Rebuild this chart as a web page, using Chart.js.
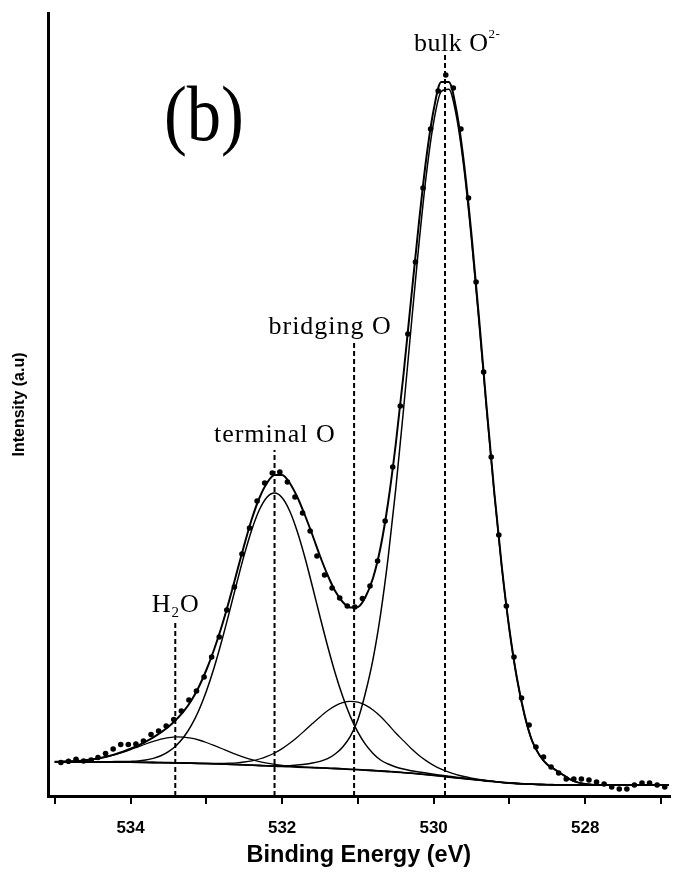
<!DOCTYPE html>
<html>
<head>
<meta charset="utf-8">
<script src="https://cdn.jsdelivr.net/npm/chart.js@4.4.1/dist/chart.umd.min.js"></script>
<style>
  html, body { margin: 0; padding: 0; background: #fff; }
  #wrap { width: 675px; height: 874px; }
</style>
</head>
<body>
<div id="wrap"><canvas id="xpsChart" width="675" height="874"></canvas></div>
<script>
// O 1s region, binding energy in eV, intensity in arbitrary units
const energy = [535.0, 534.9, 534.8, 534.7, 534.6, 534.5, 534.4, 534.3, 534.2, 534.1,
  534.0, 533.9, 533.8, 533.7, 533.6, 533.5, 533.4, 533.3, 533.2, 533.1,
  533.0, 532.9, 532.8, 532.7, 532.6, 532.5, 532.4, 532.3, 532.2, 532.1,
  532.0, 531.9, 531.8, 531.7, 531.6, 531.5, 531.4, 531.3, 531.2, 531.1,
  531.0, 530.9, 530.8, 530.7, 530.6, 530.5, 530.4, 530.3, 530.2, 530.1,
  530.0, 529.9, 529.8, 529.7, 529.6, 529.5, 529.4, 529.3, 529.2, 529.1,
  529.0, 528.9, 528.8, 528.7, 528.6, 528.5, 528.4, 528.3, 528.2, 528.1,
  528.0, 527.9, 527.8, 527.7, 527.6, 527.5, 527.4, 527.3, 527.2, 527.1,
  527.0, 526.9];

const background = [34, 34, 34, 34, 34, 34, 34, 34, 34, 33.9,
  33.8, 33.7, 33.6, 33.5, 33.4, 33.3, 33.2, 33.0, 32.8, 32.6,
  32.4, 32.2, 32.0, 31.7, 31.4, 31.1, 30.8, 30.5, 30.2, 29.9,
  29.6, 29.3, 29.0, 28.7, 28.4, 28.1, 27.8, 27.5, 27.1, 26.7,
  26.3, 25.9, 25.5, 25.0, 24.5, 24.0, 23.4, 22.8, 22.1, 21.4,
  20.6, 19.8, 19.0, 18.2, 17.4, 16.6, 15.8, 15.0, 14.3, 13.6,
  13.0, 12.5, 12.1, 11.8, 11.5, 11.3, 11.2, 11.1, 11.0, 11.0,
  11, 11, 11, 11, 11, 11, 11, 11, 11, 11, 11, 11];

const h2oFit = [34.2, 34.4, 34.7, 35.1, 35.8, 36.7, 37.9, 39.5, 41.5, 43.8,
  46.4, 49.2, 52.0, 54.6, 56.8, 58.3, 59.1, 58.9, 57.8, 56.0,
  53.5, 50.6, 47.5, 44.3, 41.3, 38.6, 36.3, 34.4, 32.9, 31.7,
  30.7, 30.0, 29.4, 28.9, 28.5, 28.1, 27.8, 27.5, 27.1, 26.7,
  26.3, 25.9, 25.5, 25.0, 24.5, 24.0, 23.4, 22.8, 22.1, 21.4,
  20.6, 19.8, 19.0, 18.2, 17.4, 16.6, 15.8, 15.0, 14.3, 13.6,
  13.0, 12.5, 12.1, 11.8, 11.5, 11.3, 11.2, 11.1, 11.0, 11.0,
  11, 11, 11, 11, 11, 11, 11, 11, 11, 11, 11, 11];

const terminalFit = [34.0, 34.0, 34.0, 34.0, 34.0, 34.1, 34.2, 34.3, 34.4, 34.4,
  34.6, 35.0, 36.0, 37.6, 40.2, 44.3, 50.3, 58.7, 70.3, 85.5,
  104.7, 127.7, 154.2, 182.9, 212.5, 241.1, 266.3, 286.2, 298.8, 302.9,
  298.2, 285.0, 264.5, 238.7, 209.5, 179.3, 150.0, 123.0, 99.4, 79.6,
  63.8, 51.6, 42.6, 36.0, 32.0, 29.0, 26.9, 25.3, 24.1, 22.9,
  21.8, 20.8, 19.8, 18.8, 17.9, 17.0, 16.1, 15.2, 14.4, 13.6,
  13.0, 12.5, 12.1, 11.8, 11.5, 11.3, 11.2, 11.1, 11.0, 11.0,
  11, 11, 11, 11, 11, 11, 11, 11, 11, 11, 11, 11];

const bridgingFit = [34, 34, 34, 34, 34, 34, 34, 34, 34, 33.9,
  33.8, 33.7, 33.6, 33.5, 33.4, 33.3, 33.2, 33.0, 32.8, 32.7,
  32.6, 32.6, 32.7, 32.8, 33.2, 34.0, 35.2, 37.0, 39.6, 43.0,
  47.4, 52.7, 58.8, 65.5, 72.4, 79.1, 85.2, 90.1, 93.3, 94.6,
  93.8, 90.9, 86.0, 79.5, 71.5, 63.0, 55.4, 47.8, 41.1, 35.4,
  30.6, 26.8, 23.8, 21.4, 19.5, 17.9, 16.6, 15.5, 14.6, 13.7,
  13.0, 12.5, 12.1, 11.8, 11.5, 11.3, 11.2, 11.1, 11.0, 11.0,
  11, 11, 11, 11, 11, 11, 11, 11, 11, 11, 11, 11];

const bulkFit = [34, 34, 34, 34, 34, 34, 34, 34, 34, 33.9,
  33.8, 33.7, 33.6, 33.5, 33.4, 33.3, 33.2, 33.0, 32.8, 32.6,
  32.4, 32.2, 32.0, 31.7, 31.4, 31.1, 30.8, 30.5, 30.2, 29.9,
  30.1, 30.3, 31.0, 31.7, 32.9, 34.6, 37.3, 42.0, 49.1, 59.7,
  76.3, 103.2, 136.9, 181.9, 238.8, 307.2, 384.5, 466.7, 547.4, 619.1,
  673.8, 704.5, 706.7, 679.9, 627.6, 555.8, 472.4, 385.4, 302.3, 228.1,
  166.2, 117.2, 80.8, 54.9, 40.4, 31.3, 26.5, 21.5, 16.7, 13.6,
  12.0, 11.3, 11, 11, 11, 11, 11, 11, 11, 11, 11, 11];

const envelope = [34.2, 34.4, 34.7, 35.1, 35.8, 36.8, 38.1, 39.8, 41.9, 44.3,
  47.2, 50.5, 54.4, 58.7, 63.6, 69.3, 76.3, 84.6, 95.3, 109.0,
  126.0, 146.0, 169.0, 195.0, 223.0, 251.0, 277.0, 298.0, 313.0, 321.0,
  321.0, 313.0, 299.0, 281.0, 261.0, 240.0, 221.0, 205.0, 194.0, 188.5,
  189.0, 199.0, 218.0, 249.0, 294.0, 352.0, 420.0, 495.0, 569.0, 636.0,
  686.0, 714.0, 714.0, 686.0, 633.0, 561.0, 477.0, 388.0, 304.0, 229.0,
  166.5, 117.5, 81.0, 55.0, 40.5, 31.5, 26.5, 21.5, 16.7, 13.6,
  12.0, 11.3, 11, 11, 11, 11, 11, 11, 11, 11, 11, 11];

// measured points
const dotEnergy = [534.92, 534.82, 534.72, 534.62, 534.52, 534.43, 534.33, 534.23, 534.13, 534.03,
  533.93, 533.83, 533.73, 533.63, 533.53, 533.43, 533.33, 533.23, 533.13, 533.03,
  532.93, 532.83, 532.73, 532.63, 532.53, 532.43, 532.33, 532.23, 532.13, 532.03,
  531.93, 531.83, 531.73, 531.63, 531.54, 531.44, 531.34, 531.24, 531.14, 531.04,
  530.94, 530.84, 530.74, 530.64, 530.54, 530.44, 530.34, 530.24, 530.14, 530.04,
  529.94, 529.84, 529.74, 529.64, 529.54, 529.44, 529.34, 529.24, 529.14, 529.04,
  528.94, 528.84, 528.74, 528.65, 528.55, 528.45, 528.35, 528.25, 528.15, 528.05,
  527.95, 527.85, 527.75, 527.65, 527.55, 527.45, 527.35, 527.25, 527.15, 527.05,
  526.95];
const dotIntensity = [33.5, 34.7, 36.7, 35.0, 36.0, 38.5, 42.5, 47.0, 51.5, 51.5,
  52.0, 55.0, 61.5, 65.0, 70.0, 76.5, 85.0, 96.0, 105.0, 119.0,
  139.0, 159.0, 186.0, 209.0, 242.0, 268.0, 295.0, 313.0, 323.0, 324.0,
  314.0, 299.0, 283.0, 265.0, 240.0, 221.0, 208.0, 198.0, 190.0, 189.0,
  197.5, 210.0, 235.0, 275.0, 329.0, 390.0, 462.0, 534.0, 608.0, 667.0,
  705.0, 721.0, 708.0, 667.0, 598.0, 514.0, 424.0, 339.0, 261.0, 190.0,
  139.0, 98.0, 71.0, 49.0, 39.0, 29.0, 23.0, 17.0, 17.0, 17.0,
  16.0, 14.0, 12.0, 9.0, 7.0, 7.0, 11.0, 13.0, 13.0, 11.0,
  9.0];

const tickLabels = [534, 532, 530, 528];

// peak positions and the height where each dashed marker stops
const peakEnergy = [533.41, 532.10, 531.05, 529.85];
const peakMarkTop = [176, 346, 453, 741];

const serif = '"Liberation Serif", "Times New Roman", serif';
const sans = '"Liberation Sans", Arial, sans-serif';

let pts = (xs, ys) => xs.map((e, i) => ({ x: e, y: ys[i] }));

let fitLine = (arr, w) => ({
  type: 'line',
  data: pts(energy, arr),
  borderColor: '#000',
  borderWidth: w,
  pointRadius: 0,
  fill: false,
  cubicInterpolationMode: 'monotone'
});

let markers = peakEnergy.map((e, i) => ({
  type: 'line',
  data: [{ x: e, y: 0 }, { x: e, y: peakMarkTop[i] }],
  borderColor: '#000',
  borderWidth: 2,
  borderDash: [5, 3],
  pointRadius: 0,
  tension: 0
}));

// labels: [text, font size, baseline shift]; anchored at left/baseline in data units
const peakLabels = [
  { x: 533.72, y: 184, sp: 1, sx: 1, parts: [['H', 26, 0], ['2', 15, 5], ['O', 26, 0]] },
  { x: 532.90, y: 354, sp: 1, sx: 1, parts: [['terminal O', 26, 0]] },
  { x: 532.18, y: 462, sp: 1, sx: 1, parts: [['bridging O', 26, 0]] },
  { x: 530.26, y: 745, sp: 0.5, sx: 1, parts: [['bulk O', 26, 0], ['2-', 13, -13]] },
  { x: 533.56, y: 656, sp: 0, sx: 0.88, parts: [['(b)', 78, 0]] }
];

const labelPlugin = {
  id: 'labelPlugin',
  afterDatasetsDraw(chart) {
    let ctx = chart.ctx;
    let xs = chart.scales.x, ys = chart.scales.y;
    ctx.fillStyle = '#000';
    ctx.textAlign = 'left';
    ctx.textBaseline = 'alphabetic';
    peakLabels.forEach((lab) => {
      ctx.save();
      ctx.translate(xs.getPixelForValue(lab.x), ys.getPixelForValue(lab.y));
      ctx.scale(lab.sx, 1);
      ctx.letterSpacing = lab.sp + 'px';
      let px = 0;
      lab.parts.forEach((p) => {
        ctx.font = p[1] + 'px ' + serif;
        ctx.fillText(p[0], px, p[2]);
        px += ctx.measureText(p[0]).width;
      });
      ctx.restore();
    });
  }
};

new Chart(document.getElementById('xpsChart'), {
  type: 'scatter',
  data: {
    datasets: [
      {
        data: pts(dotEnergy, dotIntensity),
        backgroundColor: '#000',
        borderWidth: 0,
        pointRadius: 2.8
      },
      fitLine(envelope, 2),
      fitLine(bulkFit, 1.5),
      fitLine(bridgingFit, 1.3),
      fitLine(terminalFit, 1.5),
      fitLine(h2oFit, 1.3),
      fitLine(background, 1.8),
      ...markers
    ]
  },
  options: {
    responsive: false,
    animation: false,
    devicePixelRatio: 1,
    layout: { padding: { top: 13, right: 0, bottom: 0, left: 0 } },
    plugins: {
      legend: { display: false },
      tooltip: { enabled: false }
    },
    scales: {
      x: {
        type: 'linear',
        reverse: true,
        min: 526.883,
        max: 535.09,
        border: { color: '#000', width: 3 },
        grid: { drawOnChartArea: false, drawTicks: true, tickLength: 8, color: '#000', lineWidth: 2 },
        ticks: {
          stepSize: 1,
          includeBounds: false,
          autoSkip: false,
          maxRotation: 0,
          padding: 14,
          color: '#000',
          font: { family: sans, weight: 'bold', size: 17 },
          callback: (v) => tickLabels.includes(v) ? String(v) : ''
        },
        title: {
          display: true,
          text: 'Binding Energy (eV)',
          color: '#000',
          font: { family: sans, weight: 'bold', size: 23.5 },
          padding: { top: 0, bottom: 4 }
        },
        afterFit: (s) => { s.height = 78; }
      },
      y: {
        min: 0,
        max: 783,
        border: { color: '#000', width: 3 },
        grid: { display: false },
        ticks: { display: false },
        title: {
          display: true,
          text: 'Intensity (a.u)',
          color: '#000',
          font: { family: sans, weight: 'bold', size: 16 },
          padding: { top: 10, bottom: 0 }
        },
        afterFit: (s) => { s.width = 48; }
      }
    }
  },
  plugins: [labelPlugin]
});
</script>
</body>
</html>
